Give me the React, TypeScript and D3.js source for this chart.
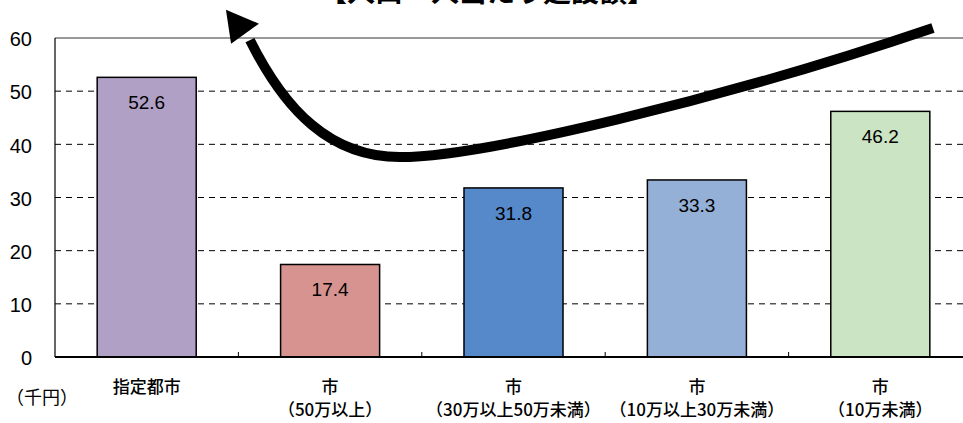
import React from "react";
import * as d3 from "d3";

const categoriesLine1 = ["指定都市", "市", "市", "市", "市"];
const categoriesLine2 = ["", "（50万以上）", "（30万以上50万未満）", "（10万以上30万未満）", "（10万未満）"];
const values = [52.6, 17.4, 31.8, 33.3, 46.2];
const barColors = ["#B1A0C6", "#D6938F", "#5589CA", "#95B0D6", "#CBE4C4"];
const yTicks = [0, 10, 20, 30, 40, 50, 60];
const title = "【人口一人当たり建設額】";
const unitLabel = "（千円）";
// arrow annotation in data units [category position, value]: start, then two cubic segments (c1, c2, end)
const arrowStart: [number, number] = [4.787, 61.9];
const arrowSeg1: [number, number][] = [[3.626, 48.3], [2.317, 37.6], [1.881, 37.6]];
const arrowSeg2: [number, number][] = [[1.5, 37.6], [1.254, 46.4], [1.063, 59.6]];
const arrowHead: [number, number][] = [[0.932, 65.3], [0.96, 58.9], [1.112, 62.7]];

const W = 963, H = 423;
const left = 55, right = 972, top = 38, bottom = 357;

export default function App() {
  const idx = categoriesLine1.map((_, i) => String(i));
  const x = d3.scaleBand<string>().domain(idx).range([left, right]).paddingInner(0.46).paddingOuter(0.23);
  const xu = d3.scaleLinear().domain([0, 5]).range([left, right]);
  const y = d3.scaleLinear().domain([0, 60]).range([bottom, top]);
  const p = d3.path();
  p.moveTo(xu(arrowStart[0]), y(arrowStart[1]));
  p.bezierCurveTo(xu(arrowSeg1[0][0]), y(arrowSeg1[0][1]), xu(arrowSeg1[1][0]), y(arrowSeg1[1][1]), xu(arrowSeg1[2][0]), y(arrowSeg1[2][1]));
  p.bezierCurveTo(xu(arrowSeg2[0][0]), y(arrowSeg2[0][1]), xu(arrowSeg2[1][0]), y(arrowSeg2[1][1]), xu(arrowSeg2[2][0]), y(arrowSeg2[2][1]));
  const head = arrowHead.map(q => `${xu(q[0])},${y(q[1])}`).join(" ");
  const step = x.step();
  return (
    <svg width={W} height={H} style={{ position: "absolute", left: 0, top: 0, background: "#fff" }}>
      <rect x={0} y={0} width={W} height={H} fill="#fff" />
      <text x={487} y={2} textAnchor="middle" fontFamily="'Noto Sans CJK JP', sans-serif" fontWeight="bold" fontSize={28} fill="#000">{title}</text>
      {yTicks.filter(t => t > 0 && t < 60).map(t => (
        <line key={t} x1={left} x2={right} y1={y(t)} y2={y(t)} stroke="#000" strokeWidth={1} strokeDasharray="6,5" />
      ))}
      <line x1={left} x2={right} y1={y(60)} y2={y(60)} stroke="#333" strokeWidth={1.2} />
      <line x1={left} x2={left} y1={y(60)} y2={y(0)} stroke="#000" strokeWidth={1.2} />
      {values.map((v, i) => (
        <g key={i}>
          <rect x={x(String(i))} y={y(v)} width={x.bandwidth()} height={y(0) - y(v)} fill={barColors[i]} stroke="#000" strokeWidth={1.5} />
          <text x={(x(String(i)) as number) + x.bandwidth() / 2} y={y(v) + 32} textAnchor="middle" fontFamily="'Liberation Sans', Arial, sans-serif" fontSize={19} fill="#000">{v.toFixed(1)}</text>
        </g>
      ))}
      <line x1={left} x2={right} y1={y(0)} y2={y(0)} stroke="#000" strokeWidth={2} />
      {idx.map((_, i) => (
        <line key={i} x1={left + step * (i + 1)} x2={left + step * (i + 1)} y1={y(0)} y2={y(0) - 5} stroke="#000" strokeWidth={1} />
      ))}
      {yTicks.map(t => (
        <text key={t} x={32} y={y(t) + 3} textAnchor="end" dominantBaseline="middle" fontFamily="'Liberation Sans', Arial, sans-serif" fontSize={20} fill="#000">{t}</text>
      ))}
      <text x={42} y={399} textAnchor="middle" dominantBaseline="middle" fontFamily="'Noto Sans CJK JP', sans-serif" fontSize={18} fill="#000">{unitLabel}</text>
      {idx.map((k, i) => (
        <g key={k} fontFamily="'Noto Sans CJK JP', sans-serif" fontSize={17} fontWeight={500} fill="#000" textAnchor="middle">
          <text x={(x(k) as number) + x.bandwidth() / 2} y={388} dominantBaseline="middle">{categoriesLine1[i]}</text>
          <text x={(x(k) as number) + x.bandwidth() / 2} y={411} dominantBaseline="middle">{categoriesLine2[i]}</text>
        </g>
      ))}
      <path d={p.toString()} fill="none" stroke="#000" strokeWidth={10} />
      <polygon points={head} fill="#000" />
    </svg>
  );
}
